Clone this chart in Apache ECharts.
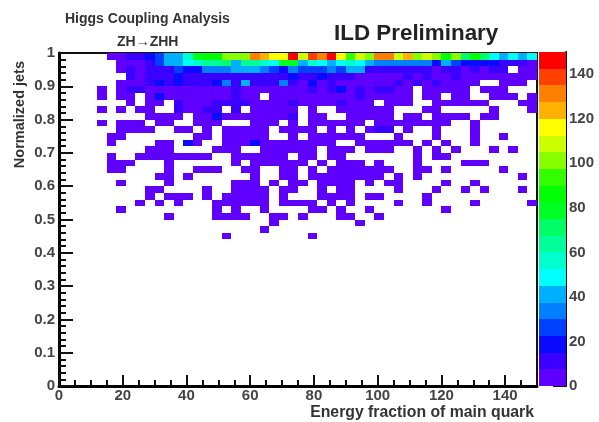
<!DOCTYPE html>
<html>
<head>
<meta charset="utf-8">
<style>
html,body{margin:0;padding:0;background:#fff}
#c{width:599px;height:422px;filter:blur(0.55px)}
</style>
<script src="https://cdn.jsdelivr.net/npm/echarts@6/dist/echarts.min.js"></script>
</head>
<body>
<div id="c"></div>
<script>
// Bin counts, top row (0.98-1.00) first; each row has 50 bins of width 3 on x.
const r00=[0,0,0,0,0,4,4,11,11,19, 26,41,41,56,79,86,86,101,101,101, 131,124,116,116,146,109,139,131,146,116, 94,109,101,131,131,109,124,101,109,101, 86,101,71,86,71,49,41,49,38,49];
const r01=[0,0,0,0,0,0,4,4,4,11, 26,41,41,49,56,64,64,71,41,64, 64,56,49,79,79,41,56,49,41,49, 56,49,41,34,34,34,34,34,34,22, 41,26,19,19,19,19,11,11,11,4];
const r02=[0,0,0,0,0,0,4,11,4,11, 11,11,26,19,19,34,34,34,41,41, 41,34,26,19,34,26,26,26,34,26, 41,41,11,11,11,11,11,11,11,4, 11,11,4,11,4,11,11,0,4,4];
const r03=[0,0,0,0,0,0,0,11,4,11, 11,11,19,11,11,11,11,11,11,11, 11,11,11,11,19,11,11,19,11,11, 11,4,4,4,4,4,11,4,11,4, 4,11,4,4,4,4,4,4,4,4];
const r04=[0,0,0,0,0,0,4,4,4,11, 19,11,19,11,11,11,19,34,11,41, 11,11,11,34,11,4,19,4,11,4, 4,4,4,4,4,11,4,11,4,11, 4,4,4,4,0,0,4,4,4,0];
const r05=[0,0,0,0,4,0,4,11,11,4, 4,4,4,4,4,4,4,4,11,4, 4,4,4,4,4,4,11,4,11,19, 4,11,4,11,11,4,4,0,4,4, 4,4,4,0,4,4,4,0,0,0];
const r06=[0,0,0,0,4,0,4,4,0,4, 19,4,4,4,4,4,4,4,11,4, 4,0,4,4,4,4,4,4,4,4, 4,11,4,4,4,4,4,0,4,4, 0,4,4,0,0,4,4,4,0,4];
const r07=[0,0,0,0,0,0,0,4,0,4, 4,0,11,4,4,4,11,11,11,11, 4,4,4,4,11,4,4,4,4,11, 4,4,4,0,4,4,4,0,0,4, 4,4,4,4,4,0,0,0,4,4];
const r08=[0,0,0,0,4,0,4,0,4,4, 0,0,11,4,4,11,11,0,11,0, 4,4,4,4,4,0,4,0,0,4, 4,4,4,4,4,0,0,0,4,4, 0,0,0,0,0,4,0,0,0,4];
const r09=[0,0,0,0,0,0,0,0,0,4, 4,4,4,0,4,4,19,4,4,4, 4,4,4,4,11,0,4,4,0,0, 4,4,4,4,4,0,4,4,0,4, 4,4,4,0,4,4,0,0,0,0];
const r10=[0,0,0,0,4,0,4,4,4,0, 4,4,0,0,4,4,4,0,0,0, 4,4,4,0,4,0,4,4,4,4, 4,4,0,4,4,4,4,4,4,4, 4,0,0,4,0,0,0,0,0,0];
const r11=[0,0,0,0,0,0,4,4,4,4, 0,0,4,4,0,4,0,4,4,4, 4,4,0,4,4,4,4,0,4,0, 4,0,4,11,11,0,4,0,0,4, 0,0,0,4,0,0,0,0,0,0];
const r12=[0,0,0,0,0,4,4,0,0,0, 0,0,0,0,4,4,0,4,4,4, 4,4,0,0,4,0,4,4,4,4, 4,4,0,0,0,4,0,0,0,4, 0,0,0,4,0,0,4,0,0,0];
const r13=[0,0,0,0,0,4,0,0,0,0, 4,4,0,19,4,0,0,4,4,4, 19,4,4,4,4,4,4,4,4,0, 0,4,4,4,4,4,4,0,4,0, 4,0,0,4,0,0,0,0,0,0];
const r14=[0,0,0,0,0,0,0,0,0,4, 4,4,0,0,0,0,4,4,4,0, 0,4,4,4,4,4,4,0,4,4, 4,0,4,4,4,0,0,4,0,4, 0,4,0,0,0,4,0,4,0,0];
const r15=[0,0,0,0,0,4,0,0,4,4, 4,4,4,4,4,4,0,0,4,4, 4,4,4,4,0,4,4,0,4,4, 0,0,0,0,0,0,0,4,0,4, 4,0,0,0,0,0,0,0,0,0];
const r16=[0,0,0,0,0,4,4,4,0,0, 0,4,0,0,0,0,0,0,4,0, 4,4,4,4,4,4,0,4,0,4, 4,4,0,4,0,0,0,4,0,0, 0,0,4,4,4,0,0,0,0,0];
const r17=[0,0,0,0,0,4,4,0,0,0, 0,4,0,0,4,4,4,0,0,4, 4,0,0,4,4,0,4,0,4,4, 4,4,4,4,4,0,0,4,4,0, 4,0,0,0,0,0,4,0,0,0];
const r18=[0,0,0,0,0,0,0,0,0,0, 4,4,0,4,0,0,0,0,0,0, 4,0,0,4,4,0,4,4,4,4, 4,4,4,4,0,4,0,4,0,0, 0,0,0,0,0,0,0,0,4,0];
const r19=[0,0,0,0,0,0,4,0,0,0, 0,4,0,0,0,0,0,0,4,4, 4,0,4,0,4,4,0,4,4,4, 4,0,4,0,4,4,0,0,0,0, 4,0,0,4,0,0,0,0,0,0];
const r20=[0,0,0,0,0,0,0,0,0,4, 4,0,0,0,0,4,0,0,4,4, 4,4,0,4,4,0,0,4,0,4, 4,0,0,0,0,4,0,0,0,4, 0,0,4,0,4,0,0,0,4,0];
const r21=[0,0,0,0,0,0,0,0,0,4, 0,4,4,4,0,4,0,4,4,4, 4,4,0,4,0,0,0,4,4,4, 4,0,4,4,0,0,0,0,4,0, 0,0,0,0,0,0,0,0,0,0];
const r22=[0,0,0,0,0,0,0,0,4,0, 4,0,4,0,0,0,4,4,4,4, 4,4,0,4,4,4,4,0,4,0, 4,0,0,0,0,4,0,0,4,0, 0,0,0,4,0,0,0,0,0,4];
const r23=[0,0,0,0,0,0,4,0,0,0, 0,0,0,0,0,0,4,0,4,0, 0,4,0,0,0,0,4,4,0,4, 0,0,4,0,0,0,0,0,0,0, 4,0,0,0,0,0,0,0,0,0];
const r24=[0,0,0,0,0,0,0,0,0,0, 0,4,0,0,0,0,4,4,4,4, 0,0,4,4,0,4,0,0,0,4, 4,0,0,4,0,0,0,0,0,0, 0,0,0,0,0,0,0,0,0,0];
const r25=[0,0,0,0,0,0,0,0,0,0, 0,0,0,0,0,0,0,0,0,0, 0,0,4,0,0,0,0,0,0,0, 0,4,0,0,0,0,0,0,0,0, 0,0,0,0,0,0,0,0,0,0];
const r26=[0,0,0,0,0,0,0,0,0,0, 0,0,0,0,0,0,0,0,0,0, 0,4,0,0,0,0,0,0,0,0, 0,0,0,0,0,0,0,0,0,0, 0,0,0,0,0,0,0,0,0,0];
const r27=[0,0,0,0,0,0,0,0,0,0, 0,0,0,0,0,0,0,4,0,0, 0,0,0,0,0,0,4,0,0,0, 0,0,0,0,0,0,0,0,0,0, 0,0,0,0,0,0,0,0,0,0];
const histRows=[r00,r01,r02,r03,r04,r05,r06,r07,r08,r09,r10,r11,r12,r13,r14,r15,r16,r17,r18,r19,r20,r21,r22,r23,r24,r25,r26,r27];

const binWidthX=3, binWidthY=0.02, zMax=150;
const palette=['#5f00ff','#3a00ff','#0a0aff','#0040ff','#0080ff','#00b0ff','#00ffff','#00ffcc','#00ff99','#00ff66','#00ff22','#00ff00','#33ff00','#88ff00','#ccff00','#ffff00','#ffb000','#ff8000','#ff4000','#ff0000'];
const bandWidth=zMax/palette.length;

const cells=[];
histRows.forEach((row,r)=>row.forEach((v,i)=>{
  if(v>0){
    const top=1-r*binWidthY;
    cells.push([i*binWidthX,(i+1)*binWidthX,top-binWidthY,top,v]);
  }
}));
const bands=palette.map((c,i)=>[i*bandWidth,(i+1)*bandWidth,i]);

function rectItem(params,api,a,b,fill){
  const p0=api.coord(a), p1=api.coord(b);
  const x=Math.round(Math.min(p0[0],p1[0])), y=Math.round(Math.min(p0[1],p1[1]));
  const x2=Math.round(Math.max(p0[0],p1[0])), y2=Math.round(Math.max(p0[1],p1[1]));
  return {type:'rect',shape:{x:x,y:y,width:x2-x,height:y2-y},style:{fill:fill}};
}
const font='"Liberation Sans",Arial,sans-serif';
const label={fontFamily:font,fontWeight:'bold',fontSize:15,color:'#444'};

const chart=echarts.init(document.getElementById('c'),null,{renderer:'canvas'});
chart.setOption({
  animation:false,
  backgroundColor:'#fff',
  title:[
    {text:'ILD Preliminary',left:329,top:18,textStyle:{fontFamily:font,fontWeight:'bold',fontSize:22.4,color:'#222'}},
    {text:'Higgs Coupling Analysis',left:60,top:7,textStyle:{fontFamily:font,fontWeight:'bold',fontSize:14,color:'#333'}},
    {text:'ZH\u2192ZHH',left:112,top:30,textStyle:{fontFamily:font,fontWeight:'bold',fontSize:14,color:'#333'}}
  ],
  grid:[
    {left:59,top:53,width:478,height:333,show:true,borderColor:'#111',borderWidth:2,backgroundColor:'#fff'},
    {left:539,top:52,width:27,height:334,show:false}
  ],
  xAxis:[
    {gridIndex:0,type:'value',min:0,max:150,interval:20,
     axisLine:{show:true,onZero:false,lineStyle:{color:'#000',width:3}},
     axisTick:{show:true,inside:true,length:11,lineStyle:{color:'#111',width:2}},
     minorTick:{show:true,splitNumber:4,length:6,lineStyle:{color:'#111',width:2}},
     splitLine:{show:false},minorSplitLine:{show:false},
     axisLabel:Object.assign({margin:2,showMaxLabel:false},label),
     name:'Energy fraction of main quark',nameLocation:'end',nameGap:-3,
     nameTextStyle:{fontFamily:font,fontWeight:'bold',fontSize:15.8,color:'#333',align:'right',verticalAlign:'top',padding:[19,0,0,0]}},
    {gridIndex:1,type:'value',min:0,max:1,show:false}
  ],
  yAxis:[
    {gridIndex:0,type:'value',min:0,max:1,interval:0.1,
     axisLine:{show:true,onZero:false,lineStyle:{color:'#000',width:3}},
     axisTick:{show:true,inside:true,length:14,lineStyle:{color:'#111',width:2}},
     minorTick:{show:true,splitNumber:5,length:7,lineStyle:{color:'#111',width:2}},
     splitLine:{show:false},minorSplitLine:{show:false},
     axisLabel:Object.assign({margin:4,formatter:v=>String(+v.toFixed(1))},label),
     name:'Normalized jets',nameLocation:'end',nameRotate:90,nameGap:-8,
     nameTextStyle:{fontFamily:font,fontWeight:'bold',fontSize:14.5,color:'#333',align:'right',verticalAlign:'bottom',padding:[0,0,32,0]}},
    {gridIndex:1,type:'value',min:0,max:zMax,interval:20,position:'right',
     axisLine:{show:true,onZero:false,lineStyle:{color:'#000',width:2}},
     axisTick:{show:true,inside:true,length:13,lineStyle:{color:'#111',width:2}},
     splitLine:{show:false},
     axisLabel:Object.assign({margin:3,showMaxLabel:false},label)}
  ],
  series:[
    {type:'custom',xAxisIndex:0,yAxisIndex:0,data:cells,silent:true,clip:true,
     encode:{x:[0,1],y:[2,3]},
     renderItem:(p,api)=>rectItem(p,api,[api.value(0),api.value(3)],[api.value(1),api.value(2)],
       palette[Math.min(palette.length-1,Math.floor(api.value(4)/bandWidth))])},
    {type:'custom',xAxisIndex:1,yAxisIndex:1,data:bands,silent:true,
     encode:{y:[0,1]},
     renderItem:(p,api)=>rectItem(p,api,[0,api.value(1)],[1,api.value(0)],palette[api.value(2)])}
  ]
});
</script>
</body>
</html>
